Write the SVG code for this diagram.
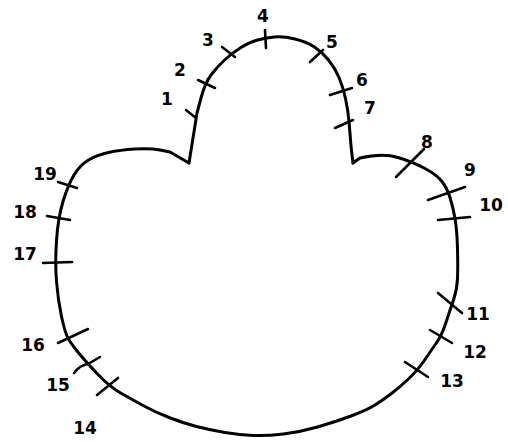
<svg xmlns="http://www.w3.org/2000/svg" width="508" height="442" viewBox="0 0 508 442">
<style>
.o{fill:none;stroke:#000;stroke-width:3;stroke-linecap:round;stroke-linejoin:round}
.t{fill:none;stroke:#000;stroke-width:2.6;stroke-linecap:round}
.n{font-family:"DejaVu Sans",sans-serif;font-size:17px;font-weight:bold;fill:#000;text-anchor:middle}
</style>
<rect width="508" height="442" fill="#fff"/>
<g id="outline">
<path class="o" d="M189,163 L197,113 L201,98 Q205,83 211,75 Q217,67 224.5,60 Q232,53 241,47.5 Q250,42 257.5,40 Q265,38 274,37 Q283,36 295,39 Q307,42 314.5,47 Q322,52 328.5,60 Q335,68 339,77.5 Q343,87 345.5,98.5 Q348,110 349,121.5 Q350,133 351,146 L353,163"/>
<path class="o" d="M353,163 L360,158 Q383,153 398,157.5 Q413,162 425,168.5 Q437,175 442,181.5 Q447,188 450,197.5 Q453,207 455,218.5 Q457,230 457.5,248.5 Q458,267 457.5,278.5 Q457,290 453.5,300 Q450,310 446,322.5 Q442,335 436,343.5 Q430,352 424,361 Q418,370 409,378.5 Q400,387 391.5,393.5 Q383,400 375,405 Q367,410 351,416 Q335,422 317.5,427 Q300,432 283.5,434 Q267,436 253.5,435.5 Q240,435 225,432.5 Q210,430 196.5,426.5 Q183,423 169,417.5 Q155,412 144,406 Q133,400 121.5,393.5 Q110,387 98.5,375 Q87,363 79.5,354 Q72,345 68.5,339 Q65,333 61.5,316.5 Q58,300 56.5,281.5 Q55,263 56.5,240.5 Q58,218 63,201.5 Q68,185 74,175 Q80,165 88.5,160 Q97,155 108.5,152.5 Q120,150 135,149 Q150,148 160,150 L170,152 L189,163"/>
</g>
<g id="ticks">
<line class="t" x1="186" y1="110" x2="196" y2="118"/>
<line class="t" x1="198" y1="80" x2="215" y2="88"/>
<line class="t" x1="222" y1="47" x2="235" y2="57"/>
<line class="t" x1="265" y1="30" x2="266" y2="48"/>
<line class="t" x1="310" y1="62" x2="323" y2="50"/>
<line class="t" x1="330" y1="95" x2="352" y2="88"/>
<line class="t" x1="335" y1="128" x2="353" y2="120"/>
<line class="t" x1="396" y1="177" x2="424" y2="149"/>
<line class="t" x1="428" y1="200" x2="465" y2="187"/>
<line class="t" x1="438" y1="220" x2="470" y2="217"/>
<line class="t" x1="438" y1="293" x2="462" y2="313"/>
<line class="t" x1="430" y1="330" x2="452" y2="343"/>
<line class="t" x1="405" y1="362" x2="428" y2="377"/>
<line class="t" x1="97" y1="395" x2="118" y2="378"/>
<path class="t" d="M74,373 Q80,365 88,364 L100,357"/>
<line class="t" x1="58" y1="343" x2="88" y2="329"/>
<line class="t" x1="43" y1="263" x2="72" y2="262"/>
<line class="t" x1="47" y1="216" x2="70" y2="220"/>
<line class="t" x1="58" y1="182" x2="77" y2="188"/>
</g>
<g id="labels">
<text class="n" x="167" y="105">1</text>
<text class="n" x="180" y="76">2</text>
<text class="n" x="208" y="46">3</text>
<text class="n" x="263" y="22">4</text>
<text class="n" x="332" y="48">5</text>
<text class="n" x="362" y="86">6</text>
<text class="n" x="370" y="114">7</text>
<text class="n" x="427" y="148">8</text>
<text class="n" x="470" y="176">9</text>
<text class="n" x="491" y="211">10</text>
<text class="n" x="478" y="320">11</text>
<text class="n" x="475" y="358">12</text>
<text class="n" x="452" y="387">13</text>
<text class="n" x="85" y="434">14</text>
<text class="n" x="58" y="391">15</text>
<text class="n" x="33" y="351">16</text>
<text class="n" x="25" y="260">17</text>
<text class="n" x="25" y="218">18</text>
<text class="n" x="45" y="180">19</text>
</g>
</svg>
